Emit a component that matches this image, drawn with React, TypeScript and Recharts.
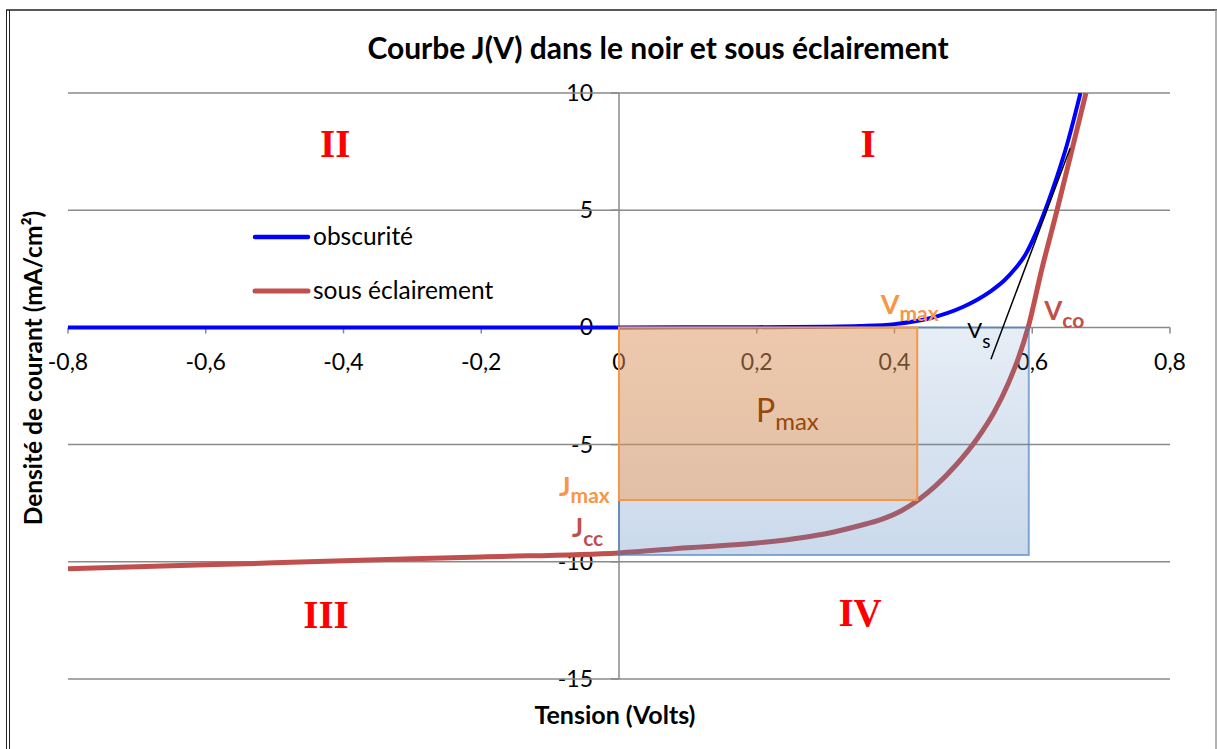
import { Line, LineChart, ReferenceArea, ReferenceDot, ReferenceLine, XAxis, YAxis } from "recharts";

// courbe dans le noir (obscurité)
const voltsDark = [-0.8, -0.4, 0, 0.2, 0.3, 0.35, 0.4, 0.45, 0.5, 0.52, 0.54, 0.56, 0.575, 0.59, 0.605, 0.62, 0.635, 0.65, 0.67];
const currentDark = [0, 0, 0, 0.01, 0.03, 0.06, 0.14, 0.38, 0.88, 1.18, 1.55, 2.02, 2.5, 3.1, 4.0, 5.1, 6.35, 7.75, 10];

// courbe sous éclairement
const voltsLight = [
  -0.8, -0.6, -0.4, -0.2, 0, 0.1, 0.2, 0.27, 0.3, 0.35, 0.38, 0.41, 0.435, 0.46, 0.49, 0.52, 0.545, 0.565, 0.58,
  0.594, 0.614, 0.636, 0.657, 0.678,
];
const currentLight = [
  -10.3, -10.13, -9.96, -9.79, -9.62, -9.4, -9.2, -8.95, -8.8, -8.45, -8.2, -7.82, -7.35, -6.75, -5.85, -4.75, -3.6,
  -2.4, -1.3, 0, 2.5, 5.0, 7.5, 10,
];

const xTicks = [-0.8, -0.6, -0.4, -0.2, 0, 0.2, 0.4, 0.6, 0.8];
const yTicks = [10, 5, 0, -5, -10, -15];

const V_MAX = 0.433;
const J_MAX = -7.36;
const V_CO = 0.595;
const J_CC = -9.71;
const tangentVs = [
  { x: 0.54, y: -1.36 },
  { x: 0.655, y: 7.64 },
];

const darkData = voltsDark.map((v, i) => ({ v, j: currentDark[i] }));
const lightData = voltsLight.map((v, i) => ({ v, j: currentLight[i] }));

const FONT = "Lato, 'Open Sans', sans-serif";
const GRID = "#8a8a8a";

const fmt = (n: number) => String(n).replace(".", ",");

function XTick({ cx, cy, text }: any) {
  return (
    <g>
      <line x1={cx} y1={cy} x2={cx} y2={cy + 6} stroke={GRID} strokeWidth={1.5} />
      <text x={cx} y={cy + 43} textAnchor="middle" fontFamily={FONT} fontSize={23} fill="#000">
        {text}
      </text>
    </g>
  );
}

function YTick({ cx, cy, text }: any) {
  return (
    <g>
      <line x1={cx - 8} y1={cy} x2={cx} y2={cy} stroke={GRID} strokeWidth={1.5} />
      <text x={cx - 26} y={cy + 8} textAnchor="end" fontFamily={FONT} fontSize={23} fill="#000">
        {text}
      </text>
    </g>
  );
}

function Note(props: any) {
  const { viewBox, main, sub, color, size, subSize, subDy, bold, family, anchor } = props;
  const cx = viewBox.x + viewBox.width / 2;
  const cy = viewBox.y + viewBox.height / 2;
  return (
    <text
      x={cx}
      y={cy}
      textAnchor={anchor || "start"}
      fontFamily={family || FONT}
      fontWeight={bold ? 700 : 400}
      fill={color}
      fontSize={size}
    >
      <tspan>{main}</tspan>
      {sub && (
        <tspan fontSize={subSize} dy={subDy}>
          {sub}
        </tspan>
      )}
    </text>
  );
}

const notes = [
  { x: 0.38, y: 0.56, main: "V", sub: "max", color: "#F79646", size: 27, subSize: 21, subDy: 7, bold: true },
  { x: 0.6175, y: 0.32, main: "V", sub: "co", color: "#C0504D", size: 26, subSize: 21, subDy: 8, bold: true },
  { x: 0.5057, y: -0.47, main: "V", sub: "s", color: "#000", size: 22, subSize: 19, subDy: 10, bold: false },
  { x: -0.0871, y: -7.19, main: "J", sub: "max", color: "#F79646", size: 27, subSize: 21, subDy: 7, bold: true },
  { x: -0.0682, y: -8.95, main: "J", sub: "cc", color: "#C0504D", size: 26, subSize: 21, subDy: 9, bold: true },
  { x: 0.1989, y: -4.04, main: "P", sub: "max", color: "#984807", size: 32, subSize: 24, subDy: 8, bold: false },
];

const quadrants = [
  { x: -0.412, y: 7.27, main: "II" },
  { x: 0.3615, y: 7.27, main: "I" },
  { x: -0.4254, y: -12.82, main: "III" },
  { x: 0.35, y: -12.73, main: "IV" },
];

export default function App() {
  return (
    <div style={{ position: "absolute", left: 0, top: 0, width: 1217, height: 749, background: "#fff" }}>
      <LineChart width={1217} height={749} data={darkData} margin={{ top: 93, right: 47, bottom: 70, left: 68 }}>
        <defs>
          <linearGradient id="rectJcc" x1="0" y1="0" x2="0" y2="1">
            <stop offset="0%" stopColor="#4F81BD" stopOpacity={0.14} />
            <stop offset="100%" stopColor="#4F81BD" stopOpacity={0.3} />
          </linearGradient>
        </defs>
        <XAxis type="number" dataKey="v" domain={[-0.8, 0.8]} ticks={xTicks} hide allowDataOverflow />
        <YAxis type="number" domain={[-15, 10]} ticks={yTicks} hide allowDataOverflow />

        {yTicks.map((t) => (
          <ReferenceLine key={`g${t}`} y={t} stroke={GRID} strokeWidth={1.5} />
        ))}
        <ReferenceLine x={0} stroke={GRID} strokeWidth={1.5} />

        {xTicks.map((t) => (
          <ReferenceDot
            key={`x${t}`}
            x={t}
            y={0}
            r={1}
            zIndex={300}
            shape={(p: any) => <XTick cx={p.cx} cy={p.cy} text={fmt(t)} />}
          />
        ))}
        {yTicks.map((t) => (
          <ReferenceDot
            key={`y${t}`}
            x={0}
            y={t}
            r={1}
            zIndex={300}
            shape={(p: any) => <YTick cx={p.cx} cy={p.cy} text={fmt(t)} />}
          />
        ))}

        <Line
          data={darkData}
          dataKey="j"
          name="obscurité"
          type="monotone"
          stroke="#0000FF"
          strokeWidth={4}
          dot={false}
          isAnimationActive={false}
        />
        <Line
          data={lightData}
          dataKey="j"
          name="sous éclairement"
          type="monotone"
          stroke="#C0504D"
          strokeWidth={5}
          dot={false}
          isAnimationActive={false}
        />

        <ReferenceArea
          x1={0}
          x2={V_CO}
          y1={J_CC}
          y2={0}
          fill="url(#rectJcc)"
          fillOpacity={1}
          stroke="#4F81BD"
          strokeOpacity={0.65}
          strokeWidth={2}
          zIndex={700}
        />
        <ReferenceArea
          x1={0}
          x2={V_MAX}
          y1={J_MAX}
          y2={0}
          fill="#F79646"
          fillOpacity={0.42}
          stroke="#F79646"
          strokeWidth={2}
          zIndex={710}
        />
        <ReferenceLine segment={tangentVs} stroke="#000" strokeWidth={1.5} zIndex={720} />

        {notes.map((n) => (
          <ReferenceDot
            key={n.main + n.sub}
            x={n.x}
            y={n.y}
            r={1}
            fill="none"
            stroke="none"
            zIndex={900}
            label={<Note {...n} />}
          />
        ))}
        {quadrants.map((q) => (
          <ReferenceDot
            key={q.main}
            x={q.x}
            y={q.y}
            r={1}
            fill="none"
            stroke="none"
            zIndex={900}
            label={<Note {...q} color="#FF0000" size={39} bold family="'Liberation Serif', serif" anchor="middle" />}
          />
        ))}
      </LineChart>

      <svg width={1217} height={749} style={{ position: "absolute", left: 0, top: 0, pointerEvents: "none" }}>
        <line x1={6} y1={10} x2={1217} y2={10} stroke="#222" strokeWidth={1.5} />
        <line x1={6.5} y1={10} x2={6.5} y2={749} stroke="#222" strokeWidth={1} />
        <line x1={9.5} y1={10} x2={9.5} y2={749} stroke="#222" strokeWidth={1} />
        <line x1={1216} y1={10} x2={1216} y2={749} stroke="#999" strokeWidth={1.5} />

        <text x={658} y={59} textAnchor="middle" fontFamily={FONT} fontWeight={700} fontSize={30}>
          Courbe J(V) dans le noir et sous éclairement
        </text>
        <text x={615} y={724} textAnchor="middle" fontFamily={FONT} fontWeight={700} fontSize={25}>
          Tension (Volts)
        </text>
        <text
          transform="translate(42 368) rotate(-90)"
          textAnchor="middle"
          fontFamily={FONT}
          fontWeight={700}
          fontSize={24.5}
        >
          Densité de courant (mA/cm²)
        </text>

        <line x1={255} y1={237} x2={308} y2={237} stroke="#0000FF" strokeWidth={4.5} strokeLinecap="round" />
        <text x={313} y={245} fontFamily={FONT} fontSize={24.5}>
          obscurité
        </text>
        <line x1={255} y1={291} x2={308} y2={291} stroke="#C0504D" strokeWidth={5} strokeLinecap="round" />
        <text x={313} y={299} fontFamily={FONT} fontSize={24.5}>
          sous éclairement
        </text>
      </svg>
    </div>
  );
}
